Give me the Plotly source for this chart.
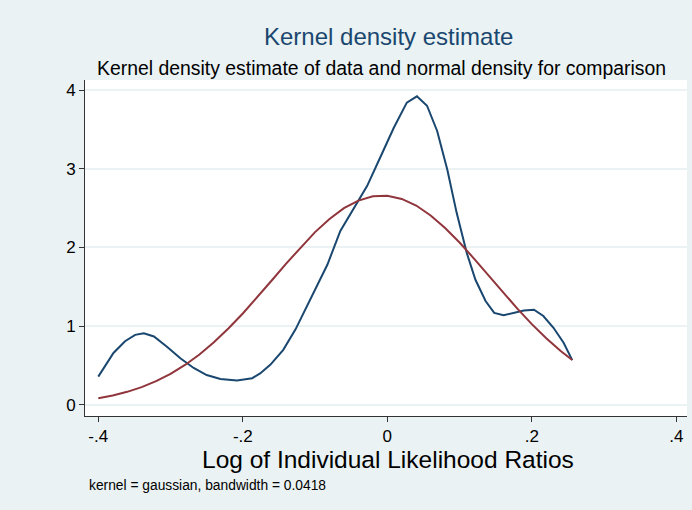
"""Kernel density estimate vs normal density, Stata s2color look."""

import plotly.graph_objects as go

# ── Data ─────────────────────────────────────────────────────────────────────
KDE_X = [-0.400, -0.379, -0.363, -0.349, -0.337, -0.323, -0.305, -0.286, -0.268,
         -0.250, -0.231, -0.208, -0.187, -0.176, -0.162, -0.144, -0.127, -0.107,
         -0.083, -0.065, -0.047, -0.028, -0.010, 0.009, 0.027, 0.041, 0.055,
         0.069, 0.083, 0.096, 0.110, 0.122, 0.136, 0.148, 0.161, 0.175, 0.189,
         0.203, 0.216, 0.230, 0.244, 0.256]
KDE_Y = [0.36, 0.66, 0.81, 0.89, 0.91, 0.87, 0.74, 0.59, 0.47,
         0.38, 0.33, 0.31, 0.34, 0.40, 0.51, 0.70, 0.96, 1.34,
         1.78, 2.21, 2.48, 2.78, 3.14, 3.52, 3.84, 3.92, 3.80,
         3.48, 2.99, 2.44, 1.93, 1.59, 1.32, 1.17, 1.14, 1.17, 1.20,
         1.21, 1.13, 0.98, 0.79, 0.57]

NORM_X = [-0.40, -0.38, -0.36, -0.34, -0.32, -0.30, -0.28, -0.26, -0.24, -0.22,
          -0.20, -0.18, -0.16, -0.14, -0.12, -0.10, -0.08, -0.06, -0.04, -0.02,
          0.00, 0.02, 0.04, 0.06, 0.08, 0.10, 0.12, 0.14, 0.16, 0.18,
          0.20, 0.22, 0.24, 0.256]
NORM_Y = [0.086, 0.121, 0.167, 0.226, 0.302, 0.395, 0.508, 0.641, 0.796, 0.971,
          1.162, 1.368, 1.581, 1.796, 2.002, 2.195, 2.363, 2.499, 2.596, 2.650,
          2.657, 2.617, 2.533, 2.407, 2.248, 2.063, 1.859, 1.646, 1.431, 1.223,
          1.027, 0.847, 0.686, 0.572]

X_TICKS = [-0.4, -0.2, 0, 0.2, 0.4]
X_TICK_TEXT = ["-.4", "-.2", "0", ".2", ".4"]
Y_TICKS = [0, 1, 2, 3, 4]

NAVY = "#1A476F"
MAROON = "#90353B"
BG = "#EAF2F3"
FONT = "Liberation Sans, Arial, sans-serif"

fig = go.Figure()
fig.add_trace(go.Scatter(x=KDE_X, y=KDE_Y, mode="lines", name="kde",
                         line=dict(color=NAVY, width=2), showlegend=False))
fig.add_trace(go.Scatter(x=NORM_X, y=NORM_Y, mode="lines", name="normal",
                         line=dict(color=MAROON, width=2), showlegend=False))

fig.update_layout(
    width=692, height=510,
    margin=dict(l=85, r=5, t=80, b=94),
    paper_bgcolor=BG, plot_bgcolor="white",
    font=dict(family=FONT, color="black"),
    annotations=[
        dict(text="Kernel density estimate", x=0.504, y=1.128, xref="paper", yref="paper",
             showarrow=False, yanchor="middle", font=dict(size=24, color=NAVY)),
        dict(text="Kernel density estimate of data and normal density for comparison",
             x=0.493, y=1.036, xref="paper", yref="paper", showarrow=False,
             yanchor="middle", font=dict(size=19.4, color="black")),
        dict(text="Log of Individual Likelihood Ratios", x=0.503, y=-0.128,
             xref="paper", yref="paper", showarrow=False, yanchor="middle",
             font=dict(size=24.5, color="black")),
        dict(text="kernel = gaussian, bandwidth = 0.0418", x=0.004, y=-0.207,
             xref="paper", yref="paper", showarrow=False, xanchor="left",
             yanchor="middle", font=dict(size=13.8, color="black")),
    ],
)

fig.update_xaxes(range=[-0.4184, 0.4148], tickvals=X_TICKS, ticktext=X_TICK_TEXT,
                 ticks="outside", ticklen=5, tickcolor="#333", showgrid=False,
                 zeroline=False, showline=True, linecolor="#333", linewidth=1,
                 tickfont=dict(size=17))
fig.update_yaxes(range=[-0.14, 4.127], tickvals=Y_TICKS, ticks="outside", ticklen=5,
                 tickcolor="#333", showgrid=True, gridcolor=BG, gridwidth=1.5,
                 zeroline=False, showline=True, linecolor="#333", linewidth=1,
                 tickangle=0, tickfont=dict(size=17))

fig.write_html("out.html", config={"displayModeBar": False},
               post_script="document.body.style.margin='0';")
